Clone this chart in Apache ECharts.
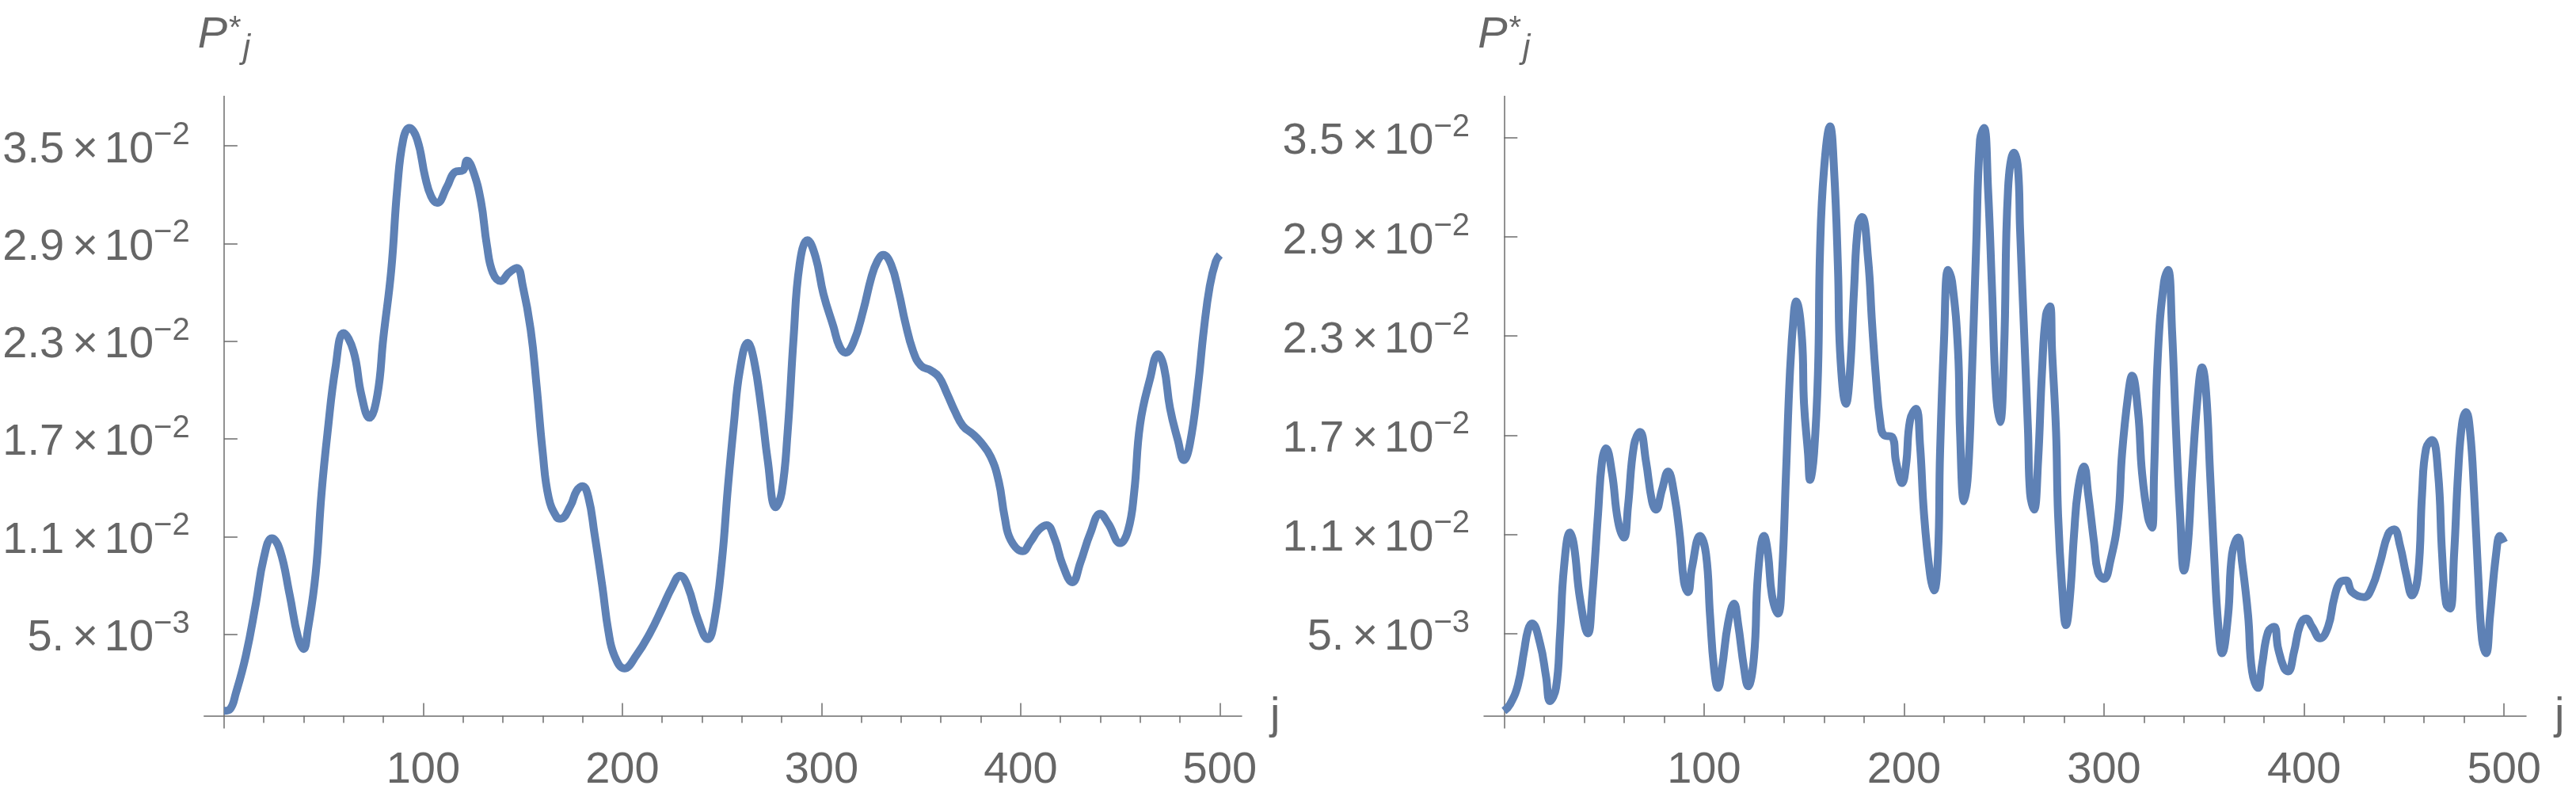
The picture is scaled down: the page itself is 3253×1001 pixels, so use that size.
<!DOCTYPE html>
<html>
<head>
<meta charset="utf-8">
<script src="https://cdn.jsdelivr.net/npm/echarts@6/dist/echarts.min.js"></script>
<style>
  html, body { margin: 0; padding: 0; background: #fff; }
  #main { width: 3253px; height: 1001px; }
</style>
</head>
<body>
<div id="main"></div>
<script>
// left panel: P*_j (j, value)
var leftJ = [0, 3, 6, 11, 16, 20, 24, 28, 33, 37, 40, 42, 46, 49, 52, 56, 60, 65, 69, 73,
  77, 80, 84, 87, 90, 93, 97, 101, 104, 107, 112, 116, 120, 122, 125, 129, 132, 135, 139, 143,
  147, 150, 154, 157, 160, 163, 167, 169, 174, 177, 180, 183, 186, 190, 193, 196, 201, 207, 214, 220,
  225, 229, 233, 238, 243, 246, 250, 253, 256, 259, 263, 266, 270, 273, 277, 280, 283, 286, 289, 293,
  297, 301, 306, 309, 312, 316, 321, 325, 328, 331, 335, 339, 342, 346, 350, 355, 359, 363, 367, 371,
  376, 380, 385, 389, 392, 395, 401, 405, 409, 413, 417, 421, 426, 430, 435, 440, 444, 450, 454, 457,
  460, 465, 469, 472, 475, 479, 482, 485, 489, 492, 495, 498, 500];
var leftP = [0.0003, 0.0004, 0.0014, 0.0037, 0.0069, 0.0097, 0.0109, 0.0102, 0.0074, 0.0049, 0.0041, 0.0052, 0.0087, 0.0137, 0.0174, 0.0214, 0.0235, 0.0224, 0.0197, 0.0183,
  0.0197, 0.0232, 0.0274, 0.0324, 0.0354, 0.0361, 0.0354, 0.0331, 0.0319, 0.0315, 0.0325, 0.0334, 0.0335, 0.0341, 0.0335, 0.0316, 0.0289, 0.0272, 0.0267, 0.0272,
  0.0275, 0.0264, 0.0237, 0.0202, 0.0162, 0.0134, 0.0122, 0.0121, 0.0129, 0.0138, 0.0141, 0.0134, 0.0112, 0.0079, 0.0052, 0.0037, 0.0029, 0.0037, 0.0051, 0.0066,
  0.0079, 0.0086, 0.0079, 0.0059, 0.0047, 0.0057, 0.0095, 0.0140, 0.0179, 0.0212, 0.0229, 0.0219, 0.0187, 0.0157, 0.0128, 0.0137, 0.0174, 0.0232, 0.0277, 0.0292,
  0.0282, 0.0259, 0.0239, 0.0227, 0.0223, 0.0229, 0.0249, 0.0269, 0.0279, 0.0283, 0.0277, 0.0259, 0.0242, 0.0224, 0.0215, 0.0212, 0.0208, 0.0198, 0.0187, 0.0178,
  0.0173, 0.0168, 0.0159, 0.0144, 0.0122, 0.0108, 0.0101, 0.0107, 0.0114, 0.0117, 0.0109, 0.0093, 0.0082, 0.0094, 0.0112, 0.0124, 0.0118, 0.0106, 0.0114, 0.0137,
  0.0179, 0.0207, 0.0222, 0.0214, 0.0189, 0.0169, 0.0157, 0.0167, 0.0202, 0.0237, 0.0264, 0.0279, 0.0283];

// right panel
var rightJ = [0, 3, 7, 10, 12, 14, 18, 21, 23, 26, 28, 30, 33, 35, 38, 42, 44, 47, 49, 51,
  54, 57, 60, 62, 65, 68, 71, 74, 76, 79, 82, 85, 88, 90, 92, 94, 98, 101, 103, 105,
  107, 109, 112, 115, 117, 120, 122, 125, 127, 130, 132, 134, 137, 139, 141, 143, 145, 146, 149, 150,
  152, 153, 155, 157, 158, 160, 163, 165, 167, 168, 171, 173, 175, 177, 179, 182, 184, 186, 188, 190,
  194, 196, 199, 201, 203, 206, 208, 210, 213, 215, 217, 218, 220, 222, 224, 227, 228, 230, 232, 234,
  236, 238, 240, 242, 244, 246, 248, 250, 252, 255, 257, 258, 260, 262, 263, 265, 267, 269, 271, 273,
  274, 276, 277, 279, 281, 283, 285, 287, 290, 292, 295, 297, 300, 303, 307, 309, 312, 314, 317, 319,
  322, 324, 325, 327, 330, 332, 334, 336, 338, 340, 342, 344, 347, 349, 351, 353, 355, 357, 359, 362,
  364, 367, 369, 372, 374, 377, 379, 382, 385, 387, 390, 392, 395, 398, 401, 404, 408, 412, 415, 418,
  421, 424, 430, 434, 438, 442, 445, 448, 451, 454, 457, 459, 461, 464, 467, 469, 471, 473, 475, 477,
  479, 481, 483, 485, 487, 489, 491, 493, 496, 498, 500];
var rightP = [0.0003, 0.0007, 0.0019, 0.0039, 0.0052, 0.0056, 0.0044, 0.0024, 0.0009, 0.0017, 0.0049, 0.0090, 0.0111, 0.0103, 0.0071, 0.0050, 0.0071, 0.0122, 0.0154, 0.0162,
  0.0147, 0.0118, 0.0108, 0.0127, 0.0164, 0.0172, 0.0154, 0.0130, 0.0125, 0.0137, 0.0148, 0.0135, 0.0108, 0.0081, 0.0075, 0.0090, 0.0109, 0.0098, 0.0061, 0.0029,
  0.0017, 0.0029, 0.0056, 0.0068, 0.0056, 0.0029, 0.0018, 0.0036, 0.0086, 0.0109, 0.0098, 0.0073, 0.0062, 0.0086, 0.0147, 0.0209, 0.0245, 0.0251, 0.0228, 0.0189,
  0.0159, 0.0143, 0.0159, 0.0209, 0.0282, 0.0331, 0.0357, 0.0331, 0.0270, 0.0221, 0.0189, 0.0209, 0.0258, 0.0297, 0.0302, 0.0277, 0.0238, 0.0204, 0.0179, 0.0170,
  0.0169, 0.0154, 0.0141, 0.0152, 0.0179, 0.0186, 0.0164, 0.0122, 0.0086, 0.0076, 0.0098, 0.0159, 0.0228, 0.0270, 0.0263, 0.0221, 0.0172, 0.0130, 0.0147, 0.0209,
  0.0282, 0.0349, 0.0356, 0.0319, 0.0258, 0.0196, 0.0178, 0.0221, 0.0319, 0.0341, 0.0331, 0.0295, 0.0233, 0.0172, 0.0135, 0.0125, 0.0154, 0.0209, 0.0243, 0.0248,
  0.0221, 0.0172, 0.0122, 0.0078, 0.0055, 0.0073, 0.0110, 0.0137, 0.0151, 0.0135, 0.0105, 0.0087, 0.0083, 0.0093, 0.0120, 0.0159, 0.0194, 0.0206, 0.0184, 0.0147,
  0.0120, 0.0114, 0.0147, 0.0221, 0.0263, 0.0270, 0.0233, 0.0172, 0.0122, 0.0088, 0.0105, 0.0147, 0.0196, 0.0211, 0.0196, 0.0147, 0.0098, 0.0056, 0.0038, 0.0061,
  0.0098, 0.0108, 0.0093, 0.0061, 0.0027, 0.0017, 0.0031, 0.0051, 0.0054, 0.0041, 0.0029, 0.0027, 0.0039, 0.0055, 0.0059, 0.0054, 0.0047, 0.0054, 0.0071, 0.0081,
  0.0082, 0.0075, 0.0072, 0.0078, 0.0093, 0.0110, 0.0113, 0.0103, 0.0086, 0.0073, 0.0086, 0.0135, 0.0162, 0.0167, 0.0147, 0.0098, 0.0068, 0.0065, 0.0098, 0.0147,
  0.0177, 0.0184, 0.0172, 0.0135, 0.0086, 0.0046, 0.0038, 0.0061, 0.0098, 0.0109, 0.0105];

var xMajorTicks = [100, 200, 300, 400, 500];
var xMinorTicks = [20, 40, 60, 80, 120, 140, 160, 180, 220, 240, 260, 280, 320, 340, 360, 380, 420, 440, 460, 480];
var yTicks = [0.005, 0.011, 0.017, 0.023, 0.029, 0.035];
var yTickMantissa = ['5.', '1.1', '1.7', '2.3', '2.9', '3.5'];
var yTickExponent = ['\u22123', '\u22122', '\u22122', '\u22122', '\u22122', '\u22122'];

var font = '"Liberation Sans", Arial, sans-serif';
var textColor = '#666666';
var axisColor = '#6c6c6c';
var lineColor = '#5e81b5';

function zip (xs, ys) {
  return xs.map(function (x, i) { return [x, ys[i]]; });
}

function yLabel (val) {
  for (var i = 0; i < yTicks.length; i++) {
    if (Math.abs(yTicks[i] - val) < 1e-9) {
      return '{h| }{n|' + yTickMantissa[i] + '}{x|\u00d7}{n|10}{s|' + yTickExponent[i] + '}';
    }
  }
  return '';
}

// main digits sit low, exponent raised
var yRich = {
  h: { fontSize: 1, lineHeight: 66 },
  n: { fontSize: 56, lineHeight: 56, verticalAlign: 'bottom', color: textColor, fontFamily: font },
  x: { fontSize: 56, lineHeight: 56, verticalAlign: 'bottom', color: textColor, fontFamily: font, padding: [0, 8, 0, 10] },
  s: { fontSize: 40, lineHeight: 40, verticalAlign: 'top', color: textColor, fontFamily: font }
};

var nameRich = {
  p: { fontSize: 56, lineHeight: 56, verticalAlign: 'top', fontStyle: 'italic', color: textColor, fontFamily: font },
  a: { fontSize: 40, lineHeight: 40, verticalAlign: 'top', color: textColor, fontFamily: font, padding: [0, 2, 0, 2] },
  j: { fontSize: 42, lineHeight: 66, verticalAlign: 'bottom', fontStyle: 'italic', color: textColor, fontFamily: font }
};

function xAxisMain (gridIndex, yIndex) {
  return {
    gridIndex: gridIndex, type: 'value', min: -10, max: 511,
    name: 'j', nameLocation: 'end', nameGap: 36,
    nameTextStyle: { fontSize: 56, color: textColor, fontFamily: font, verticalAlign: 'middle', align: 'left' },
    axisLine: { onZero: true, onZeroAxisIndex: yIndex, lineStyle: { color: axisColor, width: 1.5 } },
    axisTick: { show: true, inside: true, length: 16, customValues: xMajorTicks, lineStyle: { color: axisColor, width: 1.5 } },
    axisLabel: { customValues: xMajorTicks, margin: 26, fontSize: 56, color: textColor, fontFamily: font },
    splitLine: { show: false }
  };
}

function xAxisMinor (gridIndex, yIndex) {
  return {
    gridIndex: gridIndex, type: 'value', min: -10, max: 511,
    axisLine: { show: false, onZero: true, onZeroAxisIndex: yIndex },
    axisTick: { show: true, inside: true, length: 9, customValues: xMinorTicks, lineStyle: { color: axisColor, width: 1.5 } },
    axisLabel: { show: false },
    splitLine: { show: false }
  };
}

function yAxis (gridIndex, min, max) {
  return {
    gridIndex: gridIndex, type: 'value', min: min, max: max,
    name: '{p|P}{a|*}{j|j}', nameLocation: 'end', nameGap: 39,
    nameTextStyle: { rich: nameRich, align: 'center', verticalAlign: 'bottom' },
    axisLine: { onZero: true, lineStyle: { color: axisColor, width: 1.5 } },
    axisTick: { show: true, inside: true, length: 17, customValues: yTicks, lineStyle: { color: axisColor, width: 1.5 } },
    axisLabel: { customValues: yTicks, margin: 18, formatter: yLabel, rich: yRich },
    splitLine: { show: false }
  };
}

function curve (xIndex, yIndex, xs, ys) {
  return {
    type: 'line', xAxisIndex: xIndex, yAxisIndex: yIndex,
    data: zip(xs, ys), showSymbol: false, smooth: 0.45,
    lineStyle: { color: lineColor, width: 10, cap: 'butt', join: 'round' }
  };
}

var chart = echarts.init(document.getElementById('main'), null, { renderer: 'canvas' });
chart.setOption({
  animation: false,
  backgroundColor: '#ffffff',
  grid: [
    { left: 252, top: 121.5, width: 1316, height: 813.5 },
    { left: 1874, top: 121.5, width: 1316, height: 813.5 }
  ],
  xAxis: [xAxisMain(0, 0), xAxisMinor(0, 0), xAxisMain(1, 1), xAxisMinor(1, 1)],
  yAxis: [yAxis(0, -0.00076, 0.03805), yAxis(1, -0.00073, 0.03752)],
  series: [curve(0, 0, leftJ, leftP), curve(2, 1, rightJ, rightP)]
});
</script>
</body>
</html>
